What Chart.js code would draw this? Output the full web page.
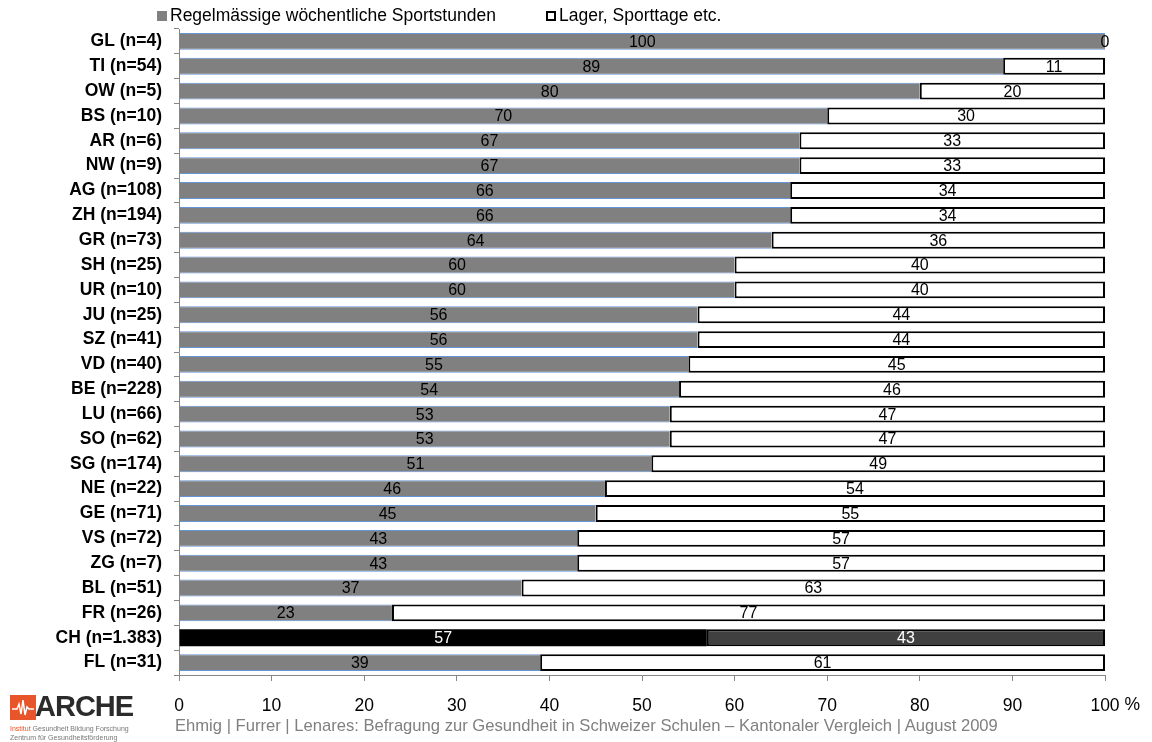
<!DOCTYPE html>
<html>
<head>
<meta charset="utf-8">
<script src="https://cdn.jsdelivr.net/npm/chart.js@4"></script>
<style>
  body { margin: 0; background: #fff; font-family: 'Liberation Sans', Arial, sans-serif; }
  #wrap { position: relative; width: 1152px; height: 742px; }
  #chart { position: absolute; left: 0; top: 0; }
  .leg { position: absolute; top: 5px; font-size: 17.5px; color: #000; white-space: nowrap; }
  .leg i { display: inline-block; width: 10px; height: 10px; box-sizing: border-box; margin-right: 3px; vertical-align: 0px; }
  #footer { position: absolute; left: 175px; top: 716px; font-size: 16.6px; color: #808080; white-space: nowrap; }
  #logo { position: absolute; left: 10px; top: 692px; }
  #logo .box { position: absolute; left: 0; top: 3px; width: 26px; height: 25px; background: #e8552a; }
  #logo .name { position: absolute; left: 25px; top: -2px; font-size: 29px; font-weight: bold; color: #2b2b2b; letter-spacing: -1px; }
  #logo .sub { position: absolute; left: 0; font-size: 7px; white-space: nowrap; color: #777; }
</style>
</head>
<body>
<div id="wrap">
  <canvas id="chart" width="1152" height="742"></canvas>
  <div class="leg" style="left:157px"><i style="background:#808080"></i>Regelmässige wöchentliche Sportstunden</div>
  <div class="leg" style="left:546px"><i style="background:#fff;border:2px solid #000"></i>Lager, Sporttage etc.</div>
  <div id="logo">
    <div class="box"><svg width="26" height="25"><polyline points="2,14 7,14 9,9 11,19 13,5 15,20 17,12 19,14 24,14" fill="none" stroke="#fff" stroke-width="1.5"/></svg></div>
    <div class="name">ARCHE</div>
    <div class="sub" style="top:33px"><span style="color:#e8552a">Institut</span> Gesundheit Bildung Forschung</div>
    <div class="sub" style="top:42px">Zentrum für Gesundheitsförderung</div>
  </div>
  <div id="footer">Ehmig | Furrer | Lenares: Befragung zur Gesundheit in Schweizer Schulen – Kantonaler Vergleich | August 2009</div>
</div>
<script>
const categories = ['GL (n=4)', 'TI (n=54)', 'OW (n=5)', 'BS (n=10)', 'AR (n=6)', 'NW (n=9)', 'AG (n=108)', 'ZH (n=194)',
  'GR (n=73)', 'SH (n=25)', 'UR (n=10)', 'JU (n=25)', 'SZ (n=41)', 'VD (n=40)', 'BE (n=228)', 'LU (n=66)', 'SO (n=62)',
  'SG (n=174)', 'NE (n=22)', 'GE (n=71)', 'VS (n=72)', 'ZG (n=7)', 'BL (n=51)', 'FR (n=26)', 'CH (n=1.383)', 'FL (n=31)'];
const regelmaessig = [100, 89, 80, 70, 67, 67, 66, 66, 64, 60, 60, 56, 56, 55, 54, 53, 53, 51, 46, 45, 43, 43, 37, 23, 57, 39];
const lager = [0, 11, 20, 30, 33, 33, 34, 34, 36, 40, 40, 44, 44, 45, 46, 47, 47, 49, 54, 55, 57, 57, 63, 77, 43, 61];
const seriesNames = ['Regelmässige wöchentliche Sportstunden', 'Lager, Sporttage etc.'];
const xTicks = [0, 10, 20, 30, 40, 50, 60, 70, 80, 90, 100];

const FONT = "'Liberation Sans', Arial, sans-serif";
const totalIdx = categories.indexOf('CH (n=1.383)');

// draws the value in the middle of each bar segment
const valueLabels = {
  id: 'valueLabels',
  afterDatasetsDraw(chart) {
    const c = chart.ctx;
    c.save();
    c.font = '16px ' + FONT;
    c.textAlign = 'center';
    c.textBaseline = 'middle';
    chart.data.datasets.forEach((ds, di) => {
      chart.getDatasetMeta(di).data.forEach((bar, i) => {
        c.fillStyle = i === totalIdx ? '#fff' : '#000';
        c.fillText(ds.data[i], (bar.x + bar.base) / 2, bar.y + 1);
      });
    });
    c.restore();
  },
  afterDraw(chart) {
    // percent sign after the last tick label
    const c = chart.ctx;
    const xs = chart.scales.x;
    c.save();
    c.font = '17.5px ' + FONT;
    c.fillStyle = '#000';
    c.textAlign = 'left';
    c.textBaseline = 'middle';
    const px = xs.getPixelForValue(100);
    c.fillText('%', px + c.measureText('100').width / 2 + 5, 705);
    c.restore();
  }
};

new Chart(document.getElementById('chart').getContext('2d'), {
  type: 'bar',
  data: {
    labels: categories,
    datasets: [{
      label: seriesNames[0],
      data: regelmaessig,
      backgroundColor: ctx => ctx.dataIndex === totalIdx ? '#000000' : '#808080',
      borderColor: '#6495d6',
      borderWidth: ctx => ctx.dataIndex === totalIdx ? 0 : { top: 1, bottom: 1, left: 0, right: 0 },
      borderSkipped: false,
      barPercentage: 0.68,
      categoryPercentage: 1
    }, {
      label: seriesNames[1],
      data: lager,
      backgroundColor: ctx => ctx.dataIndex === totalIdx ? '#404040' : '#ffffff',
      borderColor: '#000000',
      borderWidth: ctx => ctx.raw === 0 ? 0 : 2,
      borderSkipped: false,
      barPercentage: 0.68,
      categoryPercentage: 1
    }]
  },
  options: {
    indexAxis: 'y',
    responsive: false,
    animation: false,
    layout: { padding: { top: 29, right: 47, bottom: 0, left: 0 } },
    plugins: {
      legend: { display: false },
      tooltip: { enabled: false }
    },
    scales: {
      x: {
        stacked: true,
        min: 0,
        max: 100,
        afterBuildTicks: s => { s.ticks = xTicks.map(v => ({ value: v })); },
        afterFit: s => { s.height = 67; },
        grid: { drawOnChartArea: false, drawTicks: true, tickLength: 6, color: '#868686' },
        border: { display: true, color: '#868686', width: 1 },
        ticks: { color: '#000', padding: 15, maxRotation: 0, font: { size: 17.5, family: FONT } }
      },
      y: {
        stacked: true,
        afterFit: s => { s.width = 179; },
        grid: { drawOnChartArea: false, drawTicks: true, tickLength: 5, color: '#868686', offset: true },
        border: { display: true, color: '#868686', width: 1 },
        ticks: { color: '#000', padding: 12, autoSkip: false, font: { size: 17.5, weight: 'bold', family: FONT } }
      }
    }
  },
  plugins: [valueLabels]
});
</script>
</body>
</html>
